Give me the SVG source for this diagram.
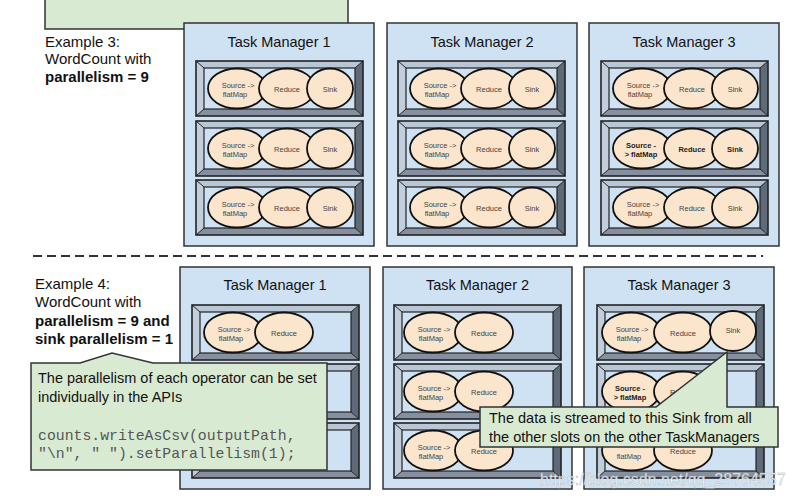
<svg xmlns="http://www.w3.org/2000/svg" xmlns:xlink="http://www.w3.org/1999/xlink" width="794" height="498" viewBox="0 0 794 498">
<style>
.tm{fill:#cfe2f3;stroke:#333;stroke-width:1.5}
.tmt{font-family:"Liberation Sans",Arial,sans-serif;font-size:14.5px;fill:#111;text-anchor:middle}
.op{fill:#fce5cd;stroke:#111;stroke-width:1.8}
.ol{font-family:"Liberation Sans",Arial,sans-serif;font-size:7.5px;fill:#444;text-anchor:middle}
.b{font-weight:bold;fill:#222}
.lbl{font-family:"Liberation Sans",Arial,sans-serif;font-size:15px;fill:#111}
.call{fill:#d9ead3;stroke:#333;stroke-width:1.5}
.ct{font-family:"Liberation Sans",Arial,sans-serif;font-size:14.5px;fill:#111}
.code{font-family:"Liberation Mono","Courier New",monospace;font-size:14.8px;fill:#555}
</style>
<defs>
<g id="slot">
<rect x="0" y="0" width="167" height="55" fill="#cfe2f3"/>
<path d="M0,0 L167,0 L159,7 L8,7 Z" fill="#b9c6d6"/>
<path d="M0,0 L8,7 L8,48 L0,55 Z" fill="#c3cedc"/>
<path d="M167,0 L167,55 L159,48 L159,7 Z" fill="#5f6a78"/>
<path d="M0,55 L8,48 L159,48 L167,55 Z" fill="#858fa0"/>
<path d="M0,0 L8,7 M167,0 L159,7 M0,55 L8,48 M167,55 L159,48" stroke="#222" stroke-width="1"/>
<rect x="8" y="7" width="151" height="41" fill="#cfe2f3" stroke="#222" stroke-width="1.2"/>
<rect x="0" y="0" width="167" height="55" fill="none" stroke="#222" stroke-width="1.6"/>
</g>
</defs>

<g id="top-note">
<rect class="call" x="45" y="-5" width="303" height="34" stroke-width="2"/>
</g>

<g id="example3">
<text class="lbl" x="45" y="47">Example 3:</text>
<text class="lbl" x="45" y="64">WordCount with</text>
<text class="lbl" x="45" y="82" font-weight="bold">parallelism = 9</text>
</g>

<!-- Top Task Managers -->
<g id="tm1-top">
<rect class="tm" x="184" y="23" width="190" height="223"/>
<text class="tmt" x="279" y="47">Task Manager 1</text>
<g id="tm1-top-slot1"><use xlink:href="#slot" x="196" y="61"/>
<ellipse class="op" cx="237" cy="88.5" rx="29" ry="20"/><ellipse class="op" cx="287" cy="88.5" rx="28" ry="20"/><ellipse class="op" cx="330" cy="88.5" rx="23" ry="20"/>
<text class="ol" x="238" y="88">Source -&gt;</text><text class="ol" x="235" y="97">flatMap</text><text class="ol" x="287" y="91.5">Reduce</text><text class="ol" x="330" y="91.5">Sink</text></g>
<g id="tm1-top-slot2"><use xlink:href="#slot" x="196" y="121"/>
<ellipse class="op" cx="237" cy="148.5" rx="29" ry="20"/><ellipse class="op" cx="287" cy="148.5" rx="28" ry="20"/><ellipse class="op" cx="330" cy="148.5" rx="23" ry="20"/>
<text class="ol" x="238" y="148">Source -&gt;</text><text class="ol" x="235" y="157">flatMap</text><text class="ol" x="287" y="151.5">Reduce</text><text class="ol" x="330" y="151.5">Sink</text></g>
<g id="tm1-top-slot3"><use xlink:href="#slot" x="196" y="180"/>
<ellipse class="op" cx="237" cy="207.5" rx="29" ry="20"/><ellipse class="op" cx="287" cy="207.5" rx="28" ry="20"/><ellipse class="op" cx="330" cy="207.5" rx="23" ry="20"/>
<text class="ol" x="238" y="207">Source -&gt;</text><text class="ol" x="235" y="216">flatMap</text><text class="ol" x="287" y="210.5">Reduce</text><text class="ol" x="330" y="210.5">Sink</text></g>
</g>

<g id="tm2-top">
<rect class="tm" x="387" y="23" width="190" height="223"/>
<text class="tmt" x="482" y="47">Task Manager 2</text>
<g id="tm2-top-slot1"><use xlink:href="#slot" x="398" y="61"/>
<ellipse class="op" cx="439" cy="88.5" rx="29" ry="20"/><ellipse class="op" cx="489" cy="88.5" rx="28" ry="20"/><ellipse class="op" cx="532" cy="88.5" rx="23" ry="20"/>
<text class="ol" x="440" y="88">Source -&gt;</text><text class="ol" x="437" y="97">flatMap</text><text class="ol" x="489" y="91.5">Reduce</text><text class="ol" x="532" y="91.5">Sink</text></g>
<g id="tm2-top-slot2"><use xlink:href="#slot" x="398" y="121"/>
<ellipse class="op" cx="439" cy="148.5" rx="29" ry="20"/><ellipse class="op" cx="489" cy="148.5" rx="28" ry="20"/><ellipse class="op" cx="532" cy="148.5" rx="23" ry="20"/>
<text class="ol" x="440" y="148">Source -&gt;</text><text class="ol" x="437" y="157">flatMap</text><text class="ol" x="489" y="151.5">Reduce</text><text class="ol" x="532" y="151.5">Sink</text></g>
<g id="tm2-top-slot3"><use xlink:href="#slot" x="398" y="180"/>
<ellipse class="op" cx="439" cy="207.5" rx="29" ry="20"/><ellipse class="op" cx="489" cy="207.5" rx="28" ry="20"/><ellipse class="op" cx="532" cy="207.5" rx="23" ry="20"/>
<text class="ol" x="440" y="207">Source -&gt;</text><text class="ol" x="437" y="216">flatMap</text><text class="ol" x="489" y="210.5">Reduce</text><text class="ol" x="532" y="210.5">Sink</text></g>
</g>

<g id="tm3-top">
<rect class="tm" x="589" y="23" width="190" height="223"/>
<text class="tmt" x="684" y="47">Task Manager 3</text>
<g id="tm3-top-slot1"><use xlink:href="#slot" x="601" y="61"/>
<ellipse class="op" cx="642" cy="88.5" rx="29" ry="20"/><ellipse class="op" cx="692" cy="88.5" rx="28" ry="20"/><ellipse class="op" cx="735" cy="88.5" rx="23" ry="20"/>
<text class="ol" x="643" y="88">Source -&gt;</text><text class="ol" x="640" y="97">flatMap</text><text class="ol" x="692" y="91.5">Reduce</text><text class="ol" x="735" y="91.5">Sink</text></g>
<g id="tm3-top-slot2"><use xlink:href="#slot" x="601" y="121"/>
<ellipse class="op" cx="642" cy="148.5" rx="29" ry="20"/><ellipse class="op" cx="692" cy="148.5" rx="28" ry="20"/><ellipse class="op" cx="735" cy="148.5" rx="23" ry="20"/>
<text class="ol b" x="641" y="148">Source -</text><text class="ol b" x="641" y="157">&gt; flatMap</text><text class="ol b" x="692" y="151.5">Reduce</text><text class="ol b" x="735" y="151.5">Sink</text></g>
<g id="tm3-top-slot3"><use xlink:href="#slot" x="601" y="180"/>
<ellipse class="op" cx="642" cy="207.5" rx="29" ry="20"/><ellipse class="op" cx="692" cy="207.5" rx="28" ry="20"/><ellipse class="op" cx="735" cy="207.5" rx="23" ry="20"/>
<text class="ol" x="643" y="207">Source -&gt;</text><text class="ol" x="640" y="216">flatMap</text><text class="ol" x="692" y="210.5">Reduce</text><text class="ol" x="735" y="210.5">Sink</text></g>
</g>

<g id="separator">
<line x1="33" y1="256" x2="763" y2="256" stroke="#333" stroke-width="2" stroke-dasharray="9,5"/>
</g>

<g id="example4">
<text class="lbl" x="35" y="289">Example 4:</text>
<text class="lbl" x="35" y="307">WordCount with</text>
<text class="lbl" x="35" y="326" font-weight="bold">parallelism = 9 and</text>
<text class="lbl" x="35" y="344" font-weight="bold">sink parallelism = 1</text>
</g>

<!-- Bottom Task Managers -->
<g id="tm1-bottom">
<rect class="tm" x="180" y="267" width="190" height="222"/>
<text class="tmt" x="275" y="290">Task Manager 1</text>
<g id="tm1-bottom-slot1"><use xlink:href="#slot" x="192" y="305"/>
<ellipse class="op" cx="233" cy="332.5" rx="29" ry="20"/><ellipse class="op" cx="284" cy="332.5" rx="29" ry="20"/>
<text class="ol" x="234" y="332">Source -&gt;</text><text class="ol" x="231" y="341">flatMap</text><text class="ol" x="284" y="335.5">Reduce</text></g>
<g id="tm1-bottom-slot2"><use xlink:href="#slot" x="192" y="364"/></g>
<g id="tm1-bottom-slot3"><use xlink:href="#slot" x="192" y="423"/></g>
</g>

<g id="tm2-bottom">
<rect class="tm" x="383" y="267" width="189" height="222"/>
<text class="tmt" x="477.5" y="290">Task Manager 2</text>
<g id="tm2-bottom-slot1"><use xlink:href="#slot" x="394" y="305"/>
<ellipse class="op" cx="433" cy="332.5" rx="29" ry="20"/><ellipse class="op" cx="484" cy="332.5" rx="29" ry="20"/>
<text class="ol" x="434" y="332">Source -&gt;</text><text class="ol" x="431" y="341">flatMap</text><text class="ol" x="484" y="335.5">Reduce</text></g>
<g id="tm2-bottom-slot2"><use xlink:href="#slot" x="394" y="364"/>
<ellipse class="op" cx="433" cy="391.5" rx="29" ry="20"/><ellipse class="op" cx="484" cy="391.5" rx="29" ry="20"/>
<text class="ol" x="434" y="391">Source -&gt;</text><text class="ol" x="431" y="400">flatMap</text><text class="ol" x="484" y="394.5">Reduce</text></g>
<g id="tm2-bottom-slot3"><use xlink:href="#slot" x="394" y="423"/>
<ellipse class="op" cx="433" cy="450.5" rx="29" ry="20"/><ellipse class="op" cx="484" cy="450.5" rx="29" ry="20"/>
<text class="ol" x="434" y="450">Source -&gt;</text><text class="ol" x="431" y="459">flatMap</text><text class="ol" x="484" y="453.5">Reduce</text></g>
</g>

<g id="tm3-bottom">
<rect class="tm" x="584" y="267" width="190" height="222"/>
<text class="tmt" x="679" y="290">Task Manager 3</text>
<g id="tm3-bottom-slot1"><use xlink:href="#slot" x="597" y="305"/>
<ellipse class="op" cx="631" cy="332.5" rx="29" ry="20"/><ellipse class="op" cx="683" cy="332.5" rx="29" ry="20"/><ellipse class="op" cx="733" cy="331" rx="23" ry="20"/>
<text class="ol" x="632" y="332">Source -&gt;</text><text class="ol" x="629" y="341">flatMap</text><text class="ol" x="683" y="335.5">Reduce</text><text class="ol" x="733" y="333">Sink</text></g>
<g id="tm3-bottom-slot2"><use xlink:href="#slot" x="597" y="364"/>
<ellipse class="op" cx="631" cy="391.5" rx="29" ry="20"/><ellipse class="op" cx="683" cy="391.5" rx="29" ry="20"/>
<text class="ol b" x="630" y="391">Source -</text><text class="ol b" x="630" y="400">&gt; flatMap</text><text class="ol" x="683" y="394.5">Reduce</text></g>
<g id="tm3-bottom-slot3"><use xlink:href="#slot" x="597" y="423"/>
<ellipse class="op" cx="631" cy="450.5" rx="29" ry="20"/><ellipse class="op" cx="683" cy="450.5" rx="29" ry="20"/>
<text class="ol" x="629" y="459">flatMap</text><text class="ol" x="683" y="453.5">Reduce</text></g>
</g>

<g id="connectors"></g>

<g id="callout-api">
<path class="call" d="M31,363 L80,363 L112,353 L153,363 L327,363 L327,470 L31,470 Z"/>
<text class="ct" x="38" y="383">The parallelism of each operator can be set</text>
<text class="ct" x="38" y="402">individually in the APIs</text>
<text class="code" x="38" y="440">counts.writeAsCsv(outputPath,</text>
<text class="code" x="38" y="458">"\n", " ").setParallelism(1);</text>
</g>

<g id="callout-sink">
<path class="call" d="M480,407 L656,407 L727,352 L727,407 L778,407 L778,447 L480,447 Z"/>
<text class="ct" x="489" y="423">The data is streamed to this Sink from all</text>
<text class="ct" x="489" y="442">the other slots on the other TaskManagers</text>
</g>

<g id="watermark">
<text x="540" y="485" font-family="'Liberation Sans',Arial,sans-serif" font-size="16" fill="#ffffff" fill-opacity="0.85" stroke="#aab4be" stroke-width="0.4">https://blog.csdn.net/qq_28764557</text>
</g>
</svg>
